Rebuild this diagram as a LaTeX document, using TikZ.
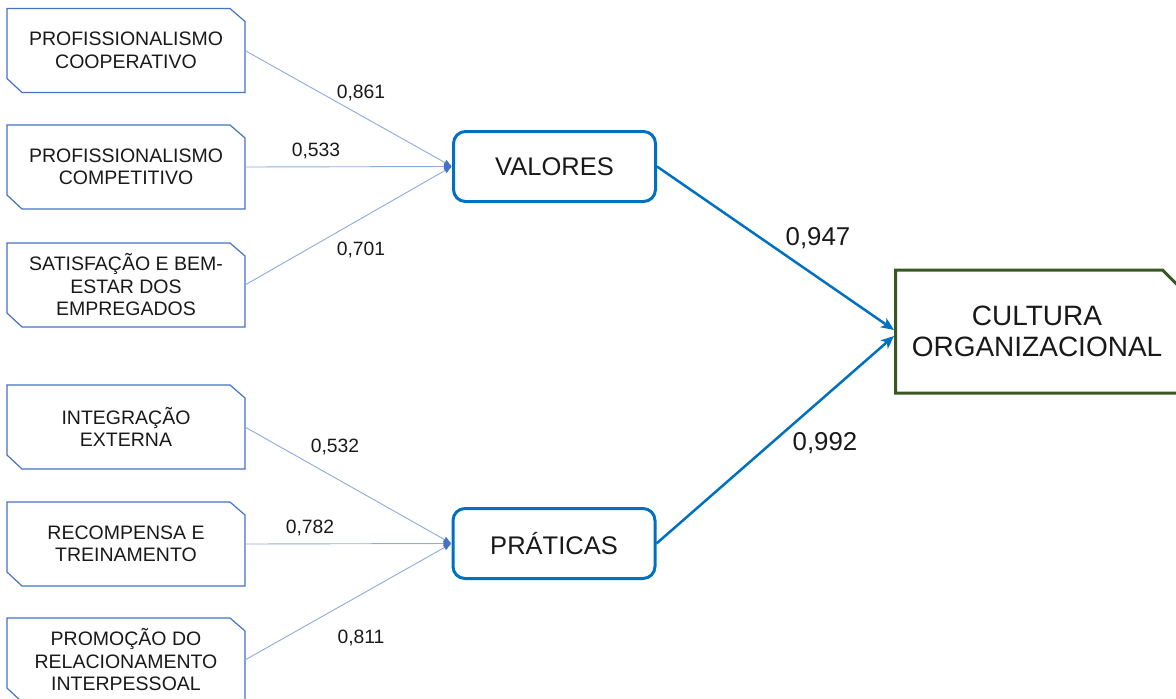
\documentclass[tikz,border=0pt]{standalone}
\usepackage{fontspec}
\setmainfont{Liberation Sans}
\usetikzlibrary{arrows.meta}
\definecolor{thinblue}{HTML}{8FAADC}
\definecolor{boxblue}{HTML}{4472C4}
\definecolor{strongblue}{HTML}{0070C0}
\definecolor{darkgreen}{HTML}{385723}
\tikzset{
  factor/.style={draw=none, minimum width=238pt, minimum height=84pt, inner sep=0pt, outer sep=0pt,
    align=center, font=\fontsize{19.5}{22.5}\selectfont, text=black!90},
  factorline/.style={draw=boxblue, line width=1.2pt, line join=miter},
  construct/.style={draw=strongblue, line width=3pt, rounded corners=12pt, minimum width=202pt,
    minimum height=70pt, inner sep=0pt, font=\fontsize{25.5}{29}\selectfont, text=black!90},
  culturenode/.style={draw=none, minimum width=283pt, minimum height=123pt, inner sep=0pt, outer sep=0pt,
    align=center, font=\fontsize{28}{31}\selectfont, text=black!90},
  cultureline/.style={draw=darkgreen, line width=3pt},
  thinarrow/.style={draw=thinblue, line width=0.9pt, -{Latex[length=8pt,width=6.5pt,color=boxblue]}},
  thickarrow/.style={draw=strongblue, line width=2.5pt, -{Stealth[length=13pt,width=11pt,inset=3.5pt]}},
  smallnum/.style={anchor=base, inner sep=0pt, font=\fontsize{19.3}{22}\selectfont, text=black!90},
  bignum/.style={anchor=base, inner sep=0pt, font=\fontsize{25.8}{30}\selectfont, text=black!90},
}
\begin{document}
\begin{tikzpicture}[x=1pt,y=-1pt]
\useasboundingbox (0,0) rectangle (1176,699);
% factor boxes
\node[factor] (b1) at (126,50.5) {PROFISSIONALISMO\\COOPERATIVO};
\node[factor] (b2) at (126,167) {PROFISSIONALISMO\\COMPETITIVO};
\node[factor] (b3) at (126,285) {SATISFAÇÃO E BEM-\\ESTAR DOS\\EMPREGADOS};
\node[factor] (b4) at (126,427) {INTEGRAÇÃO\\EXTERNA};
\node[factor] (b5) at (126,544) {RECOMPENSA E\\TREINAMENTO};
\node[factor] (b6) at (126,660) {PROMOÇÃO DO\\RELACIONAMENTO\\INTERPESSOAL};
\foreach \n in {b1,b2,b3,b4,b5,b6}{
  \draw[factorline] (\n.north west) -- ([xshift=-15pt]\n.north east) -- ([yshift=-13pt]\n.north east)
    -- (\n.south east) -- ([xshift=15pt]\n.south west) -- ([yshift=14pt]\n.south west) -- cycle;
}
% constructs
\node[construct] (val) at (554.5,166.5) {VALORES};
\node[construct] (pra) at (554,543.5) {PRÁTICAS};
% culture
\node[culturenode] (cult) at (1037,331.5) {CULTURA\\ORGANIZACIONAL};
\draw[cultureline] (cult.north west) -- ([xshift=-16pt]cult.north east) -- ([yshift=-16pt]cult.north east)
  -- (cult.south east) -- (cult.south west) -- cycle;
% thin connectors
\draw[thinarrow] (b1.east) -- (val.west);
\draw[thinarrow] (b2.east) -- (val.west);
\draw[thinarrow] (b3.east) -- (val.west);
\draw[thinarrow] (b4.east) -- (pra.west);
\draw[thinarrow] (b5.east) -- (pra.west);
\draw[thinarrow] (b6.east) -- (pra.west);
% thick connectors
\draw[thickarrow] (val.east) -- ([xshift=-1.5pt,yshift=1.5pt]cult.west);
\draw[thickarrow] (pra.east) -- ([xshift=-1.5pt,yshift=-4.5pt]cult.west);
% labels
\node[smallnum] (l1) at (361,98) {0,861};
\node[smallnum] (l2) at (316,156) {0,533};
\node[smallnum] (l3) at (361,255) {0,701};
\node[smallnum] (l4) at (335,452) {0,532};
\node[smallnum] (l5) at (310,533) {0,782};
\node[smallnum] (l6) at (361,643) {0,811};
\node[bignum] (l7) at (818,245) {0,947};
\node[bignum] (l8) at (825,450) {0,992};
\end{tikzpicture}
\end{document}
